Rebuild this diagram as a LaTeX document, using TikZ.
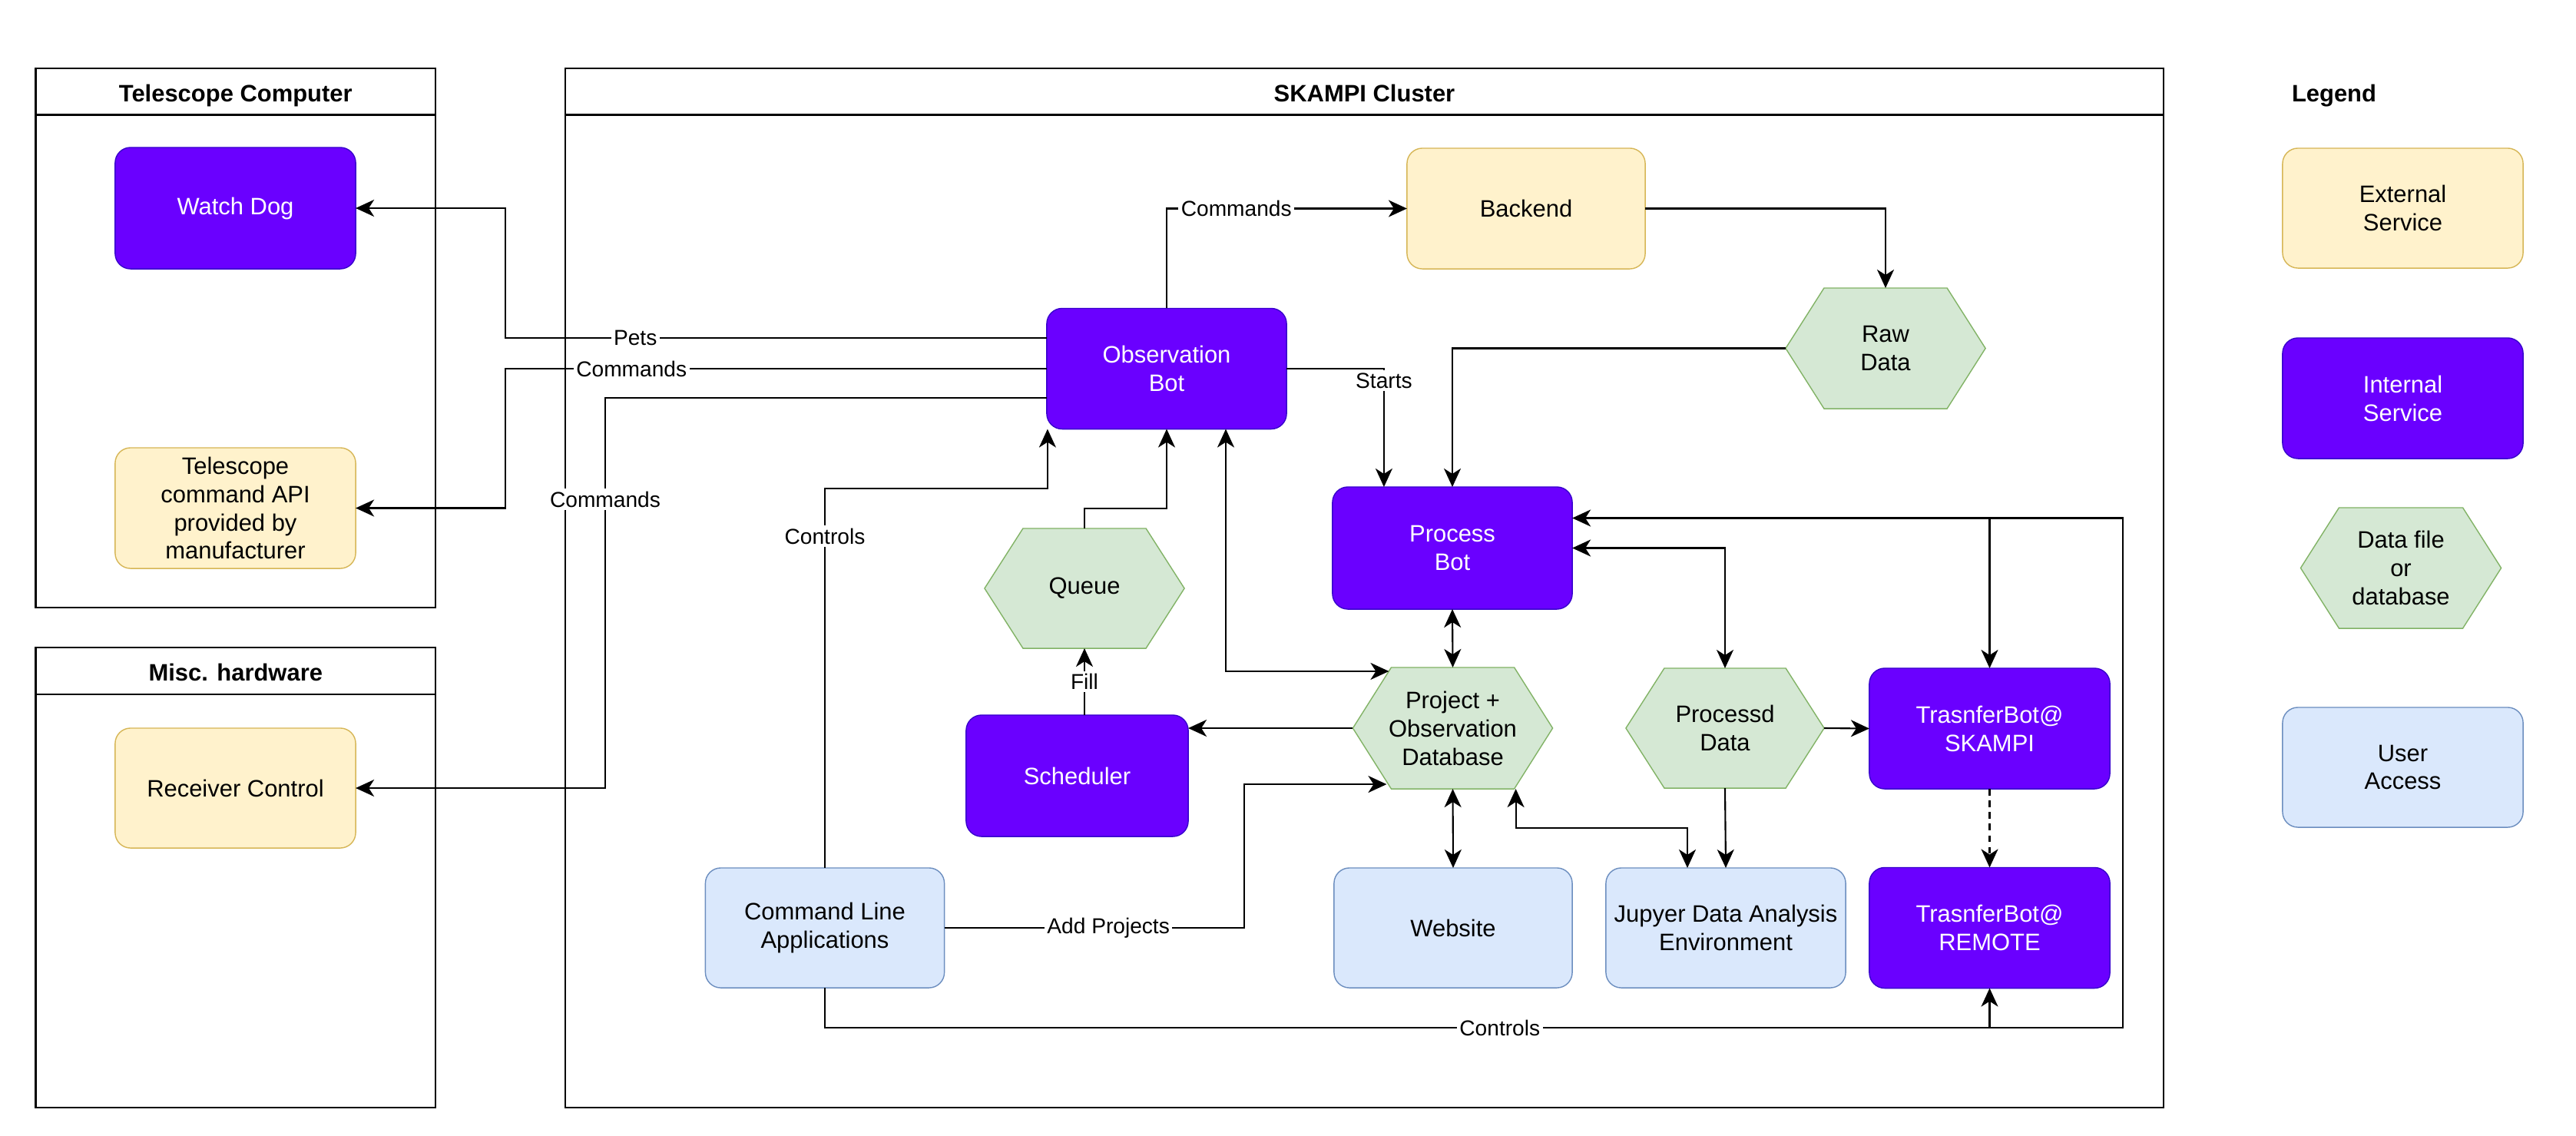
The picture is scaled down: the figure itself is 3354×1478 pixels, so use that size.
\documentclass[tikz,border=0pt]{standalone}
\usepackage{fontspec}
\setmainfont{Liberation Sans}
\usetikzlibrary{arrows.meta,calc}
\definecolor{intfill}{HTML}{6A00FF}
\definecolor{intline}{HTML}{3700CC}
\definecolor{extfill}{HTML}{FFF2CC}
\definecolor{extline}{HTML}{D6B656}
\definecolor{datfill}{HTML}{D5E8D4}
\definecolor{datline}{HTML}{82B366}
\definecolor{usrfill}{HTML}{DAE8FC}
\definecolor{usrline}{HTML}{6C8EBF}
\newcommand{\mybf}{\fontsize{8.8}{10.5}\selectfont}
\newcommand{\mylf}{\fontsize{8}{9.5}\selectfont}
\pgfdeclarelayer{bg}
\pgfsetlayers{bg,main}
\newcommand{\hexdraw}[1]{%
\begin{pgfonlayer}{bg}
\draw[hexline] ($(#1.north west)+(50,0)$) -- ($(#1.north east)+(-50,0)$) -- (#1.east) -- ($(#1.south east)+(-50,0)$) -- ($(#1.south west)+(50,0)$) -- (#1.west) -- cycle;
\end{pgfonlayer}}
\begin{document}
\begin{tikzpicture}[x=0.01cm, y=-0.01cm,
  box/.style={rectangle, rounded corners=0.2cm, minimum width=3.12cm, minimum height=1.57cm, inner sep=0pt, outer sep=0pt, align=center, font=\mybf, line width=0.4pt},
  intsvc/.style={box, fill=intfill, draw=intline, text=white},
  extsvc/.style={box, fill=extfill, draw=extline},
  usrsvc/.style={box, fill=usrfill, draw=usrline},
  hexa/.style={rectangle, minimum width=2.6cm, minimum height=1.57cm, inner sep=0pt, outer sep=0pt, align=center, font=\mybf},
  hexline/.style={fill=datfill, draw=datline, line width=0.4pt},
  cont/.style={draw=black, line width=0.7pt},
  ttl/.style={font=\mybf\bfseries, anchor=base, inner sep=0pt},
  conn/.style={draw=black, line width=0.6pt, -{Stealth[length=0.24cm,width=0.22cm,inset=0.07cm]}},
  biconn/.style={draw=black, line width=0.6pt, {Stealth[length=0.24cm,width=0.22cm,inset=0.07cm]}-{Stealth[length=0.24cm,width=0.22cm,inset=0.07cm]}},
  lbl/.style={font=\mylf, fill=white, inner sep=1pt, text=black}
]
\useasboundingbox (0,0) rectangle (3354,1478);

% containers
\begin{pgfonlayer}{bg}
\draw[cont] (46.6,89) rectangle (567,791);
\draw[cont] (46.6,149.5) -- (567,149.5);
\draw[cont] (46.6,843) rectangle (567,1442);
\draw[cont] (46.6,904) -- (567,904);
\draw[cont] (736,89) rectangle (2817,1442);
\draw[cont] (736,149.5) -- (2817,149.5);
\end{pgfonlayer}
\node[ttl] (ttc) at (306.8,132) {Telescope Computer};
\node[ttl] (tmh) at (306.8,886) {Misc. hardware};
\node[ttl] (tsk) at (1776.5,132) {SKAMPI Cluster};
\node[ttl] (tlg) at (3039,132) {Legend};

% telescope computer
\node[intsvc, minimum width=3.13cm, minimum height=1.58cm] (wd) at (306.5,271) {Watch Dog};
\node[extsvc, minimum width=3.13cm] (api) at (306.5,661.5) {Telescope\\command API\\provided by\\manufacturer};
% misc hardware
\node[extsvc, minimum width=3.13cm, minimum height=1.56cm] (rc) at (306.5,1026) {Receiver Control};

% SKAMPI cluster
\node[intsvc] (obs) at (1519,480) {Observation\\Bot};
\node[extsvc, minimum width=3.1cm] (back) at (1987,271.5) {Backend};
\node[hexa] (raw) at (2455,453.5) {Raw\\Data}; \hexdraw{raw}
\node[intsvc, minimum height=1.59cm] (pb) at (1891,713.5) {Process\\Bot};
\node[hexa, minimum height=1.56cm] (queue) at (1412,766) {Queue}; \hexdraw{queue}
\node[intsvc, minimum width=2.89cm, minimum height=1.58cm] (sch) at (1402.5,1010) {Scheduler};
\node[hexa, minimum height=1.58cm] (pdb) at (1891.5,948) {Project +\\Observation\\Database}; \hexdraw{pdb}
\node[hexa, minimum width=2.58cm, minimum height=1.56cm] (pd) at (2246,948) {Processd\\Data}; \hexdraw{pd}
\node[intsvc, minimum width=3.13cm] (tbs) at (2590.5,948.5) {TrasnferBot@\\SKAMPI};
\node[intsvc, minimum width=3.13cm] (tbr) at (2590.5,1208) {TrasnferBot@\\REMOTE};
\node[usrsvc, minimum width=3.11cm, minimum height=1.56cm] (cla) at (1074,1208) {Command Line\\Applications};
\node[usrsvc, minimum width=3.1cm, minimum height=1.56cm] (web) at (1892,1208) {Website};
\node[usrsvc, minimum width=3.12cm, minimum height=1.56cm] (jup) at (2247,1208) {Jupyer Data Analysis\\Environment};

% legend
\node[extsvc, minimum width=3.13cm, minimum height=1.56cm] (lext) at (3128.5,271) {External\\Service};
\node[intsvc, minimum width=3.13cm] (lint) at (3128.5,518.5) {Internal\\Service};
\node[hexa, minimum width=2.61cm] (ldat) at (3126,739.5) {Data file\\or\\database}; \hexdraw{ldat}
\node[usrsvc, minimum width=3.13cm, minimum height=1.56cm] (lusr) at (3128.5,999) {User\\Access};

% connectors
\draw[conn] ($(obs.west)+(0,-40)$) -- node[lbl,pos=0.76]{Pets} (658,440) |- (wd.east);
\draw[conn] (obs.west) -- node[lbl,pos=0.767]{Commands} (658,480) |- (api.east);
\draw[conn] ($(obs.west)+(0,38)$) -- (788,518) -- node[lbl,pos=0.26]{Commands} (788,1026) -- (rc.east);
\draw[conn] (obs.north) |- node[lbl,pos=0.645]{Commands} (back.west);
\draw[conn] (back.east) -| (raw.north);
\draw[conn] (raw.west) -| (pb.north);
\draw[conn] (obs.east) -| node[lbl,pos=0.55]{Starts} ($(pb.north west)+(67,0)$);
\draw[conn] (queue.north) -- (1412,662) -| (obs.south);
\draw[conn] (cla.north) -- node[lbl,pos=0.874]{Controls} (1074,636) -| ($(obs.south west)+(1,0)$);
\draw[biconn] ($(obs.south)+(77,0)$) |- ($(pdb.north west)+(47,5)$);
\draw[biconn] (pb.south) -- (pdb.north);
\draw[conn] (pdb.west) -- (pdb.west -| sch.east);
\draw[conn] (queue.south |- sch.north) -- node[lbl]{Fill} (queue.south);
\draw[conn] (cla.east) -- node[lbl,pos=0.547]{Add Projects} (1620,1208) |- ($(pdb.south west)+(44,-6)$);
\draw[biconn] (pdb.south) -- (web.north);
\draw[biconn] ($(pdb.south east)+(-48,0)$) -- ++(0,51) -| ($(jup.north)+(-50,0)$);
\draw[conn] (pd.south) -- (jup.north);
\draw[biconn] (pb.east) -| (pd.north);
\draw[conn] (pd.east) -- (tbs.west);
\draw[conn, dash pattern=on 2.5pt off 1.8pt] (tbs.south) -- (tbr.north);
\coordinate (pbin) at ($(pb.east)+(0,-39)$);
\coordinate (cbot) at ($(cla.south)+(0,52)$);
\draw[conn] (cla.south) |- node[lbl,pos=0.76]{Controls} (2764,1338) |- (pbin);
\draw[conn] (pbin -| tbs.north) -- (tbs.north);
\draw[conn] (cbot -| tbr.south) -- (tbr.south);
\end{tikzpicture}
\end{document}
